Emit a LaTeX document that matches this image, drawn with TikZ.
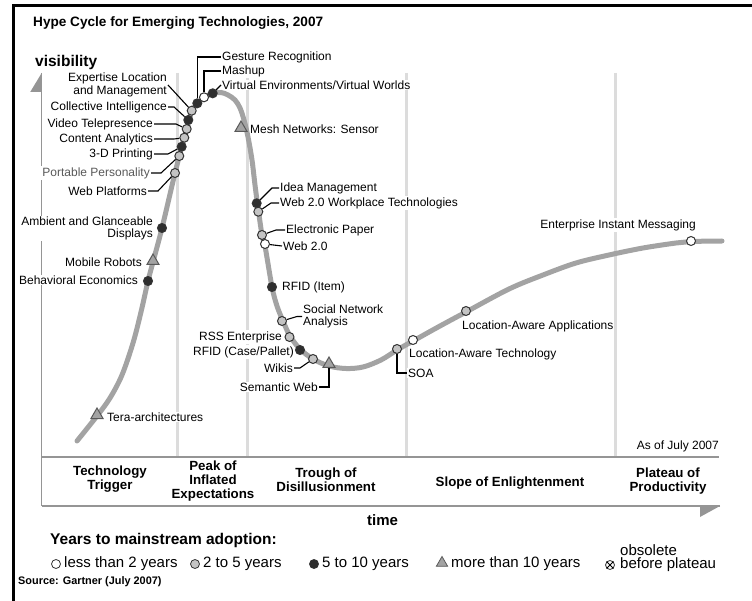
\documentclass[tikz,border=0pt]{standalone}
\usepackage{fontspec}
\setmainfont{Liberation Sans}
\usetikzlibrary{shapes.geometric}
\definecolor{curvegray}{HTML}{A3A3A3}
\definecolor{sepgray}{HTML}{DCDCDC}
\definecolor{axisgray}{HTML}{959595}
\definecolor{midgray}{HTML}{C4C4C4}
\definecolor{darkdot}{HTML}{2E2E2E}
\tikzset{
  lbl/.style={font=\fontsize{12}{12.5}\selectfont, inner sep=1pt, fill=white},
  dotw/.style={circle, draw=black!80, line width=1pt, fill=white, inner sep=0pt, minimum size=9pt},
  dotg/.style={dotw, fill=midgray},
  dotb/.style={dotw, fill=darkdot},
  tri/.style={regular polygon, regular polygon sides=3, draw=black!65, line width=1pt, fill=curvegray, inner sep=0pt, minimum size=14pt},
  leader/.style={draw=black, line width=1.1pt},
  phase/.style={font=\bfseries\fontsize{13.3}{14}\selectfont, align=center},
  keytext/.style={anchor=west, inner sep=1pt, font=\fontsize{15}{15}\selectfont}
}
\begin{document}
\begin{tikzpicture}[x=1pt, y=-1pt]
  \useasboundingbox (0,0) rectangle (752,601);
  \draw[black, line width=3pt] (13,601) -- (13,6) -- (752,6);
  \node[anchor=west, inner sep=1pt, font=\bfseries\fontsize{13.6}{14}\selectfont] (title) at (32,23) {Hype Cycle for Emerging Technologies, 2007};
  \node[anchor=west, inner sep=1pt, font=\bfseries\fontsize{15.5}{16}\selectfont] (visibility) at (34,62) {visibility};
  \foreach \x in {177,247,406,615}
    \draw[sepgray, line width=3pt] (\x,73) -- (\x,456);
  \coordinate (axtop) at (41.7,73);
  \coordinate (axbot) at (41.7,506);
  \coordinate (basend) at (719,457);
  \coordinate (timend) at (720,506);
  \draw[axisgray, line width=1.5pt] (axtop) -- (axbot);
  \fill[axisgray] (axtop) -- ++(0,19) -- ++(-11.5,0) -- cycle;
  \draw[axisgray, line width=1.3pt] (axtop |- basend) -- (basend);
  \draw[axisgray, line width=1.3pt] (axbot) -- (timend);
  \fill[axisgray] (timend) -- ++(-20,0) -- ++(0,11) -- cycle;

  \node[lbl, anchor=west] (lGesture) at (221,57) {Gesture Recognition};
  \node[lbl, anchor=west] (lMashup) at (221,71) {Mashup};
  \node[lbl, anchor=west] (lVirtual) at (221,85) {Virtual Environments/Virtual Worlds};
  \node[lbl, anchor=east, align=right] (lExpertise) at (168,85) {Expertise Location\\and Management};
  \node[lbl, anchor=east] (lCollective) at (168,107) {Collective Intelligence};
  \node[lbl, anchor=east] (lVideo) at (154,124) {Video Telepresence};
  \node[lbl, anchor=east] (lContent) at (154,139) {Content Analytics};
  \node[lbl, anchor=east] (lPrinting) at (154,154) {3-D Printing};
  \node[lbl, anchor=east, text=black!65] (lPortable) at (151,173) {Portable Personality};
  \node[lbl, anchor=east] (lWebplat) at (148,191) {Web Platforms};
  \node[lbl, anchor=east, align=right] (lAmbient) at (154,228.5) {Ambient and Glanceable\\Displays};
  \node[lbl, anchor=east] (lRobots) at (143,262) {Mobile Robots};
  \node[lbl, anchor=east] (lBehav) at (139,280) {Behavioral Economics};
  \node[lbl, anchor=west] (lTera) at (106,417) {Tera-architectures};
  \node[lbl, anchor=west] (lMesh) at (249,129) {Mesh Networks: Sensor};
  \node[lbl, anchor=west] (lIdea) at (279,188) {Idea Management};
  \node[lbl, anchor=west] (lWorkplace) at (279,203) {Web 2.0 Workplace Technologies};
  \node[lbl, anchor=west] (lEpaper) at (285,230) {Electronic Paper};
  \node[lbl, anchor=west] (lWebtwo) at (282,246) {Web 2.0};
  \node[lbl, anchor=west] (lRfiditem) at (281,287) {RFID (Item)};
  \node[lbl, anchor=west, align=left] (lSocial) at (302,316.5) {Social Network\\Analysis};
  \node[lbl, anchor=east] (lRss) at (283,337) {RSS Enterprise};
  \node[lbl, anchor=east] (lRfidcase) at (295,352) {RFID (Case/Pallet)};
  \node[lbl, anchor=east] (lWikis) at (294,368) {Wikis};
  \node[lbl, anchor=east] (lSemantic) at (319,387) {Semantic Web};
  \node[lbl, anchor=west] (lSoa) at (407,373) {SOA};
  \node[lbl, anchor=west] (lLatech) at (408,354) {Location-Aware Technology};
  \node[lbl, anchor=west] (lLaapp) at (461,326) {Location-Aware Applications};
  \node[lbl, anchor=east] (lEim) at (697,225) {Enterprise Instant Messaging};
  \node[lbl, anchor=east] (lAsof) at (720,446) {As of July 2007};

  \draw[curvegray, line width=5pt, line cap=round] plot[smooth, tension=0.55] coordinates {
    (77,441) (97,416) (110,398) (122,375) (133,343) (141,312) (148,281) (153,262)
    (162,228) (175,173) (182,146) (187,128) (192,111) (198,103) (205,97) (213,93.5)
    (221,92.5) (228,95) (235,100) (240,108) (244,120) (248,137) (252,160) (255,185)
    (257.5,204) (262,235) (265,246) (272,287) (277,306) (283,321) (290,336) (300,349)
    (313,359) (329,366) (346,368.5) (363,367) (381,360) (397,350) (413,341) (440,326)
    (466,312) (509,289) (543,275) (576,263) (609,255) (643,248) (676,243) (691,241.5) (722,241)};

  \node[tri] (tera) at (97,415) {};
  \node[dotb] (behav) at (148,281) {};
  \node[tri] (robots) at (153,261) {};
  \node[dotb] (ambient) at (162,228) {};
  \node[dotg] (webplat) at (175,173) {};
  \node[dotg] (portable) at (179.3,156) {};
  \node[dotb] (printing) at (181.7,146.7) {};
  \node[dotg] (content) at (184.3,137.7) {};
  \node[dotg] (video) at (186.7,129) {};
  \node[dotb] (collective) at (188.3,120) {};
  \node[dotg] (expertise) at (191.7,110.7) {};
  \node[dotb] (gesture) at (197.3,103.3) {};
  \node[dotw] (mashup) at (204,97.3) {};
  \node[dotb] (virtual) at (212.7,93.3) {};
  \node[tri] (mesh) at (241,128) {};
  \node[dotb] (idea) at (256.7,203.3) {};
  \node[dotg] (workplace) at (258.3,211.7) {};
  \node[dotg] (epaper) at (262,235) {};
  \node[dotw] (webtwo) at (265,244) {};
  \node[dotb] (rfiditem) at (272,287) {};
  \node[dotg] (social) at (282,321) {};
  \node[dotg] (rss) at (289.5,337) {};
  \node[dotb] (rfidcase) at (300,350) {};
  \node[dotg] (wikis) at (313,359) {};
  \node[tri] (semantic) at (329,364) {};
  \node[dotg] (soa) at (397,349) {};
  \node[dotw] (latech) at (413,340) {};
  \node[dotg] (laapp) at (466,311) {};
  \node[dotw] (eim) at (691,241) {};

  \draw[leader] (gesture) |- (lGesture.west);
  \draw[leader] (mashup) |- (lMashup.west);
  \draw[leader] (virtual) -- (lVirtual.west);
  \draw[leader] (lExpertise.east) -- (expertise);
  \draw[leader] (lCollective.east) -- ++(6,0) -- (collective);
  \draw[leader] (lVideo.east) -- ++(22,0) -- (video);
  \draw[leader] (lContent.east) -- ++(20,0) -- (content);
  \draw[leader] (lPrinting.east) -- ++(14,0) -- (printing);
  \draw[leader] (lPortable.east) -- ++(10,0) -- (portable);
  \draw[leader] (lWebplat.east) -- ++(10,0) -- (webplat);
  \draw[leader] (lIdea.west) -- ++(-7,0) -- (idea);
  \draw[leader] (lWorkplace.west) -- ++(-8,0) -- (workplace);
  \draw[leader] (lEpaper.west) -- ++(-9,0) -- (epaper);
  \draw[leader] (webtwo) -- (lWebtwo.west);
  \draw[leader] (lSocial.west) -- ++(-5,0) -- (social);
  \draw[leader] (lWikis.east) -- ++(6,0) -- (wikis);
  \draw[leader] (lSemantic.east) -| (semantic.south);
  \draw[leader] (soa) |- (lSoa.west);

  \node[phase] (pTrigger) at (110,479) {Technology\\Trigger};
  \node[phase] (pPeak) at (213,481) {Peak of\\Inflated\\Expectations};
  \node[phase] (pTrough) at (326,480) {Trough of\\Disillusionment};
  \node[phase] (pSlope) at (510,483) {Slope of Enlightenment};
  \node[phase] (pPlateau) at (668,481) {Plateau of\\Productivity};
  \node[anchor=west, inner sep=1pt, font=\bfseries\fontsize{15}{15}\selectfont] (time) at (366,520) {time};

  \node[anchor=west, inner sep=1pt, font=\bfseries\fontsize{15.5}{16}\selectfont] (years) at (49,540) {Years to mainstream adoption:};
  \node[dotw, line width=0.8pt] (kWhite) at (56,564) {};
  \node[keytext] (kWhiteT) at (63,564) {less than 2 years};
  \node[dotg, line width=0.8pt] (kGray) at (195,564) {};
  \node[keytext] (kGrayT) at (202,564) {2 to 5 years};
  \node[dotb, line width=0.8pt] (kBlack) at (314,564) {};
  \node[keytext] (kBlackT) at (321,564) {5 to 10 years};
  \node[tri, line width=0.8pt, minimum size=13pt] (kTri) at (442,563) {};
  \node[keytext] (kTriT) at (450,564) {more than 10 years};
  \node[dotw, line width=0.8pt] (kObs) at (610,565) {};
  \draw[line width=0.8pt] (kObs.north east) -- (kObs.south west) (kObs.north west) -- (kObs.south east);
  \node[keytext] (kObsT) at (619,565) {before plateau};
  \node[keytext] (kObsT2) at (619,550) {obsolete};
  \node[anchor=west, inner sep=1pt, font=\bfseries\fontsize{10.9}{11}\selectfont] (source) at (17,582) {Source: Gartner (July 2007)};
\end{tikzpicture}
\end{document}
